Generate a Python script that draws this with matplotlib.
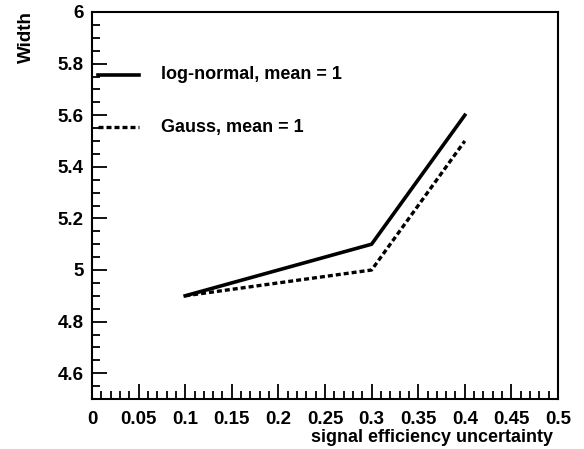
import matplotlib
matplotlib.use("Agg")
import matplotlib.pyplot as plt
from matplotlib.ticker import MultipleLocator

plt.rcParams['font.family'] = ['Liberation Sans', 'DejaVu Sans']
plt.rcParams['font.weight'] = 'bold'

uncertainty = [0.1, 0.3, 0.4]
width_lognormal = [4.9, 5.1, 5.6]
width_gauss = [4.9, 5.0, 5.5]
label_lognormal = "log-normal, mean = 1"
label_gauss = "Gauss, mean = 1"

fig = plt.figure(figsize=(5.84, 4.49), dpi=100)
ax = fig.add_axes([92 / 584, 1 - 399 / 449, (558 - 92) / 584, (399 - 12) / 449])

dash = (0, (1.5, 0.9))
ax.plot(uncertainty, width_lognormal, color='black', lw=2.6, solid_joinstyle='miter')
ax.plot(uncertainty, width_gauss, color='black', lw=2.4, ls=dash)

ax.set_xlim(0, 0.5)
ax.set_ylim(4.5, 6.0)

# legend drawn as line samples plus text inside the frame
leg_y = [5.756, 5.554]
ax.plot([0.0064, 0.0504], [leg_y[0]] * 2, color='black', lw=2.6)
ax.plot([0.0064, 0.0504], [leg_y[1]] * 2, color='black', lw=2.4, ls=dash)
ax.text(0.074, leg_y[0], label_lognormal, fontsize=13, fontweight='bold', va='center')
ax.text(0.074, leg_y[1], label_gauss, fontsize=13, fontweight='bold', va='center')

ax.xaxis.set_major_locator(MultipleLocator(0.05))
ax.xaxis.set_minor_locator(MultipleLocator(0.01))
ax.yaxis.set_major_locator(MultipleLocator(0.2))
ax.yaxis.set_minor_locator(MultipleLocator(0.05))


def fmt(v, pos):
    return f"{v:.2f}".rstrip('0').rstrip('.')


ax.xaxis.set_major_formatter(plt.FuncFormatter(fmt))
# the 4.5 label at the bottom edge is left off
ax.yaxis.set_major_formatter(plt.FuncFormatter(lambda v, p: '' if abs(v - 4.5) < 1e-6 else fmt(v, p)))

ax.tick_params(axis='x', which='major', direction='in', length=11, width=1.3,
               labelsize=13.5, top=False, pad=9)
ax.tick_params(axis='y', which='major', direction='in', length=11, width=1.3,
               labelsize=13.5, right=False, pad=6)
ax.tick_params(axis='both', which='minor', direction='in', length=6, width=1.3,
               top=False, right=False)
for lab in ax.get_xticklabels() + ax.get_yticklabels():
    lab.set_fontweight('bold')

for sp in ax.spines.values():
    sp.set_linewidth(1.5)

fig.text(553 / 584, 1 - 437 / 449, "signal efficiency uncertainty", ha='right', va='center',
         fontsize=13, fontweight='bold')
fig.text(26 / 584, 1 - 11 / 449, "Width", ha='center', va='top', rotation=90,
         fontsize=13.5, fontweight='bold')

fig.savefig("out.png", dpi=100)
